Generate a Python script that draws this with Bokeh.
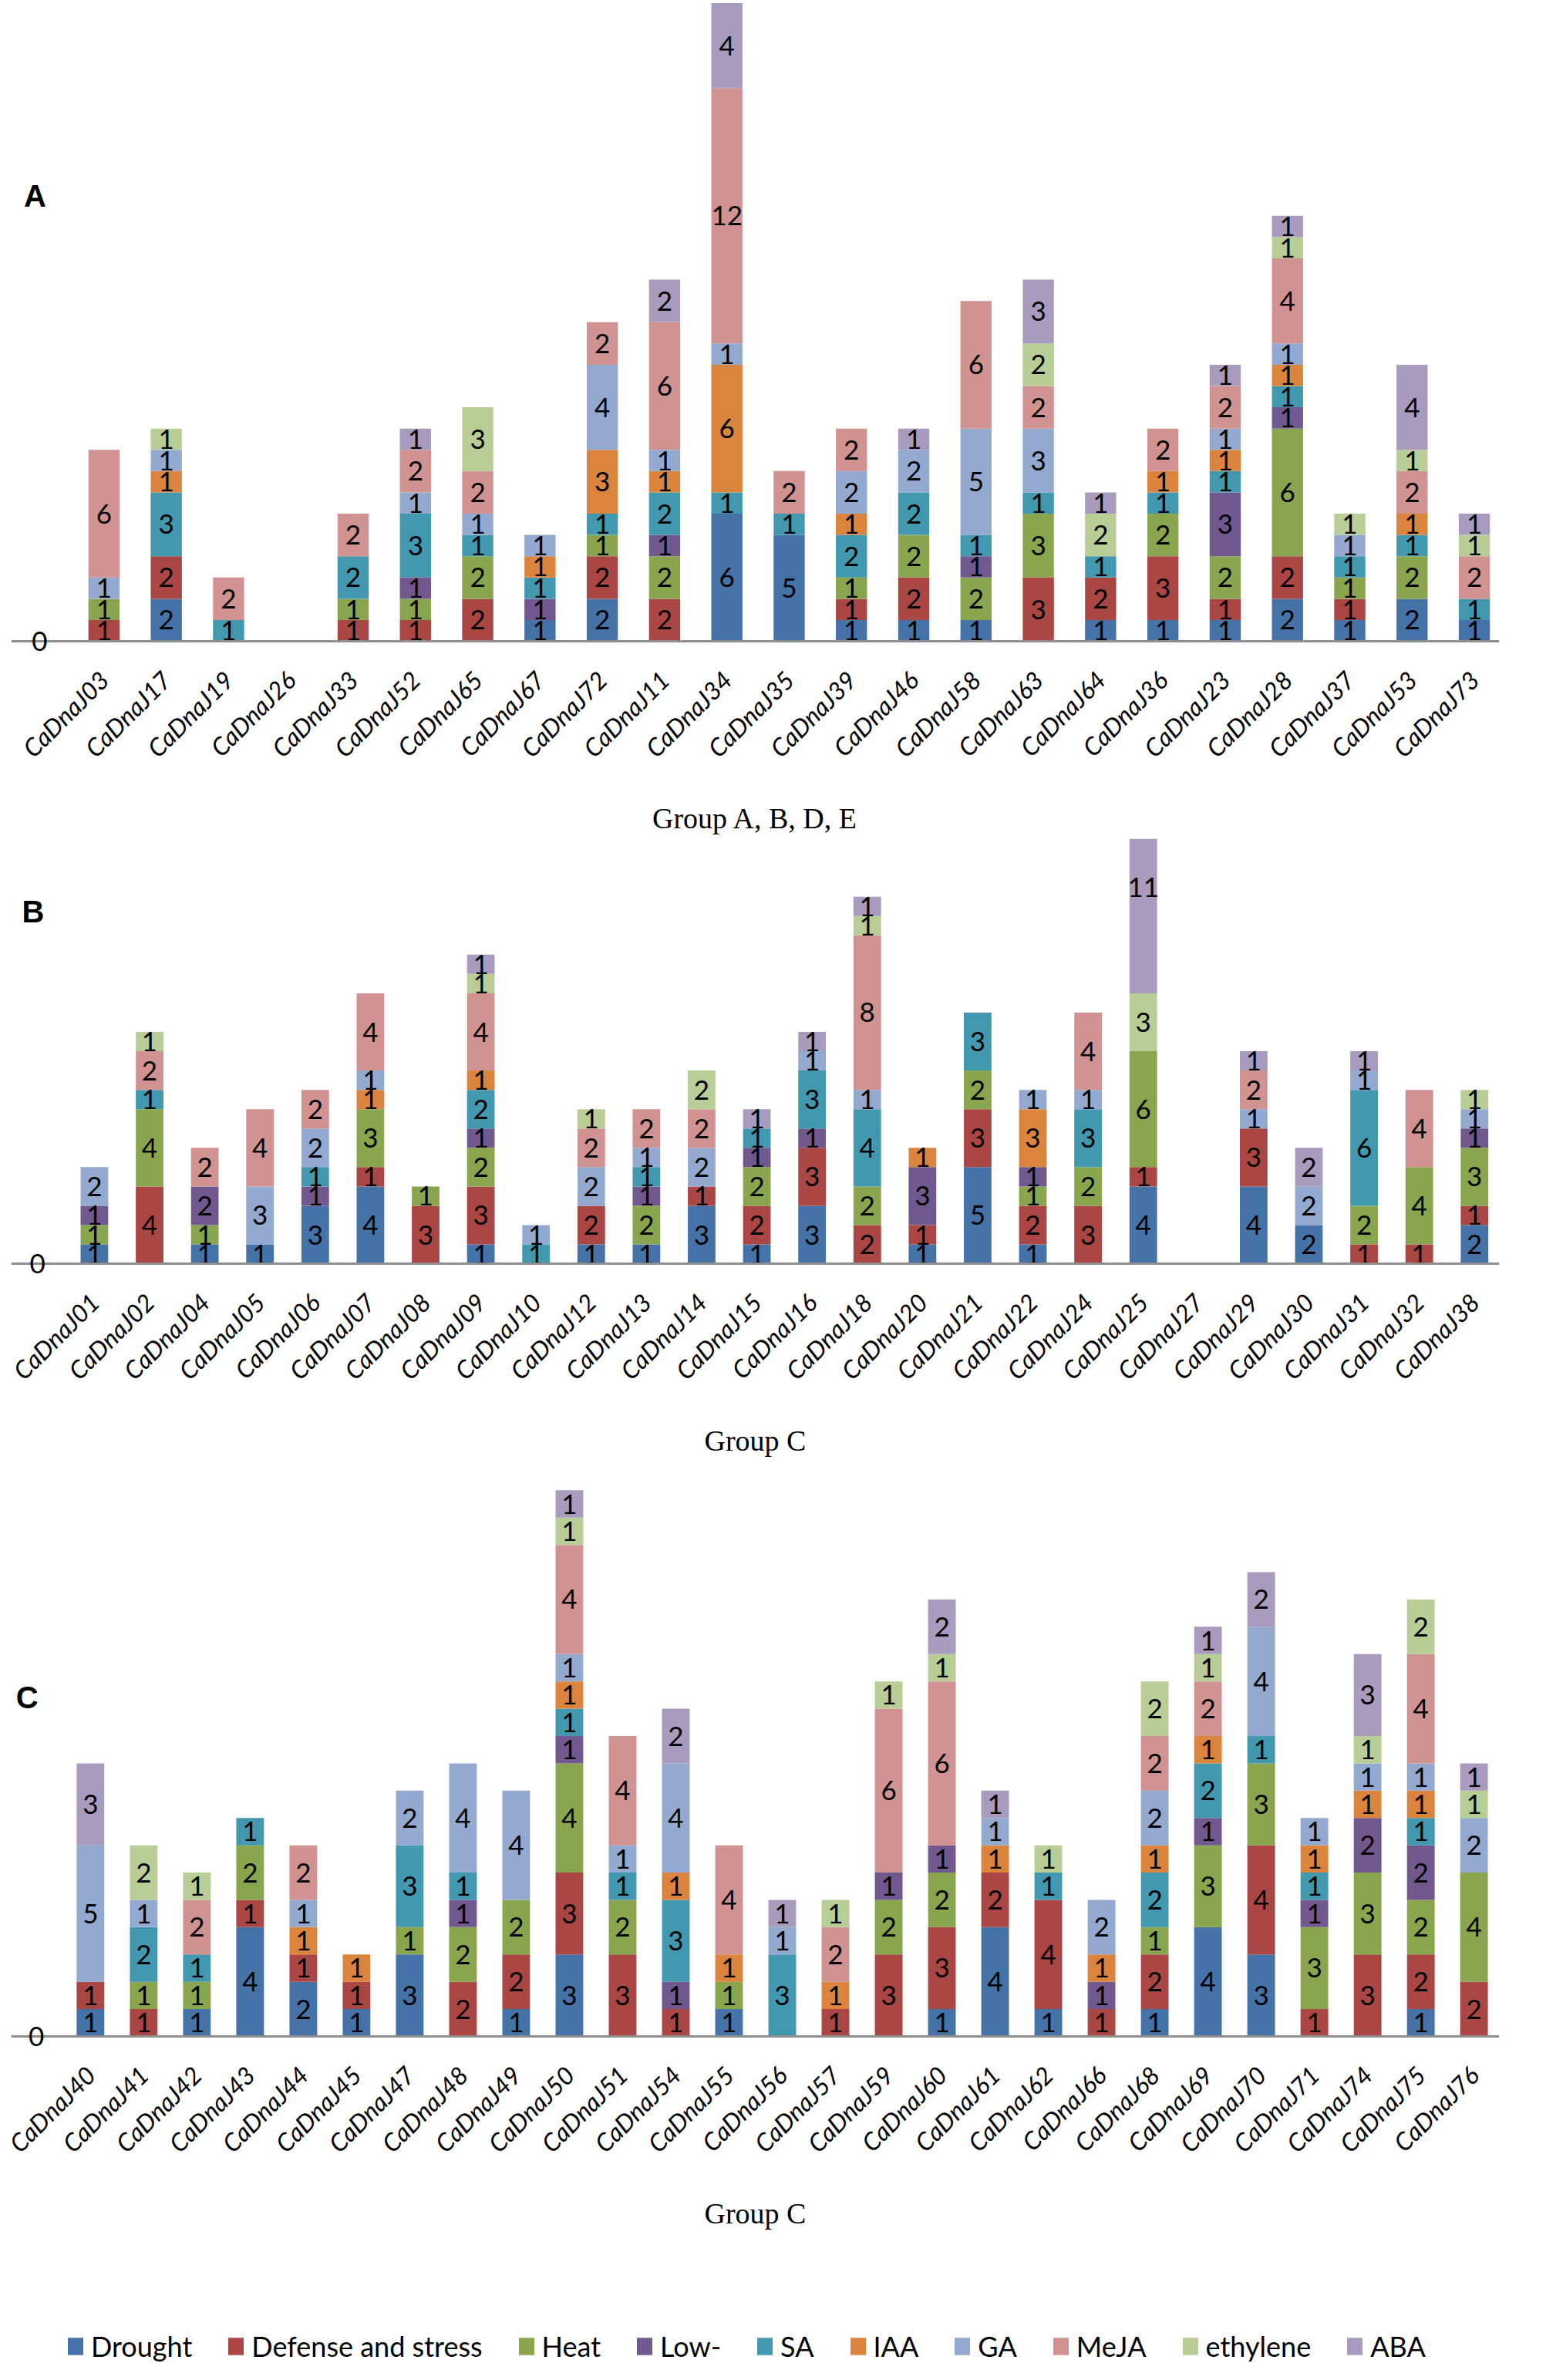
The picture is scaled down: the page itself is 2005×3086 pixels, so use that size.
import math
from bokeh.plotting import figure
from bokeh.models import ColumnDataSource, Range1d, FixedTicker, Label, Legend, LegendItem, Span
from bokeh.layouts import column
from bokeh.embed import file_html
from bokeh.resources import INLINE
from bokeh.core.properties import value

# ---------------- data ----------------
series = ["Drought", "Defense and stress", "Heat", "Low-", "SA", "IAA", "GA", "MeJA", "ethylene", "ABA"]
colors = ["#4572A7", "#AA4643", "#89A54E", "#71588F", "#4198AF", "#DB843D", "#93A9CF", "#D19392", "#B9CD96", "#A99BBD"]

# Panel A: Group A, B, D, E
a_genes = ["CaDnaJ03", "CaDnaJ17", "CaDnaJ19", "CaDnaJ26", "CaDnaJ33", "CaDnaJ52", "CaDnaJ65", "CaDnaJ67",
           "CaDnaJ72", "CaDnaJ11", "CaDnaJ34", "CaDnaJ35", "CaDnaJ39", "CaDnaJ46", "CaDnaJ58", "CaDnaJ63",
           "CaDnaJ64", "CaDnaJ36", "CaDnaJ23", "CaDnaJ28", "CaDnaJ37", "CaDnaJ53", "CaDnaJ73"]
a_drought  = [0, 2, 0, 0, 0, 0, 0, 1, 2, 0, 6, 5, 1, 1, 1, 0, 1, 1, 1, 2, 1, 2, 1]
a_defense  = [1, 2, 0, 0, 1, 1, 2, 0, 2, 2, 0, 0, 1, 2, 0, 3, 2, 3, 1, 2, 1, 0, 0]
a_heat     = [1, 0, 0, 0, 1, 1, 2, 0, 1, 2, 0, 0, 1, 2, 2, 3, 0, 2, 2, 6, 1, 2, 0]
a_low      = [0, 0, 0, 0, 0, 1, 0, 1, 0, 1, 0, 0, 0, 0, 1, 0, 0, 0, 3, 1, 0, 0, 0]
a_sa       = [0, 3, 1, 0, 2, 3, 1, 1, 1, 2, 1, 1, 2, 2, 1, 1, 1, 1, 1, 1, 1, 1, 1]
a_iaa      = [0, 1, 0, 0, 0, 0, 0, 1, 3, 1, 6, 0, 1, 0, 0, 0, 0, 1, 1, 1, 0, 1, 0]
a_ga       = [1, 1, 0, 0, 0, 1, 1, 1, 4, 1, 1, 0, 2, 2, 5, 3, 0, 0, 1, 1, 1, 0, 0]
a_meja     = [6, 0, 2, 0, 2, 2, 2, 0, 2, 6, 12, 2, 2, 0, 6, 2, 0, 2, 2, 4, 0, 2, 2]
a_ethylene = [0, 1, 0, 0, 0, 0, 3, 0, 0, 0, 0, 0, 0, 0, 0, 2, 2, 0, 0, 1, 1, 1, 1]
a_aba      = [0, 0, 0, 0, 0, 1, 0, 0, 0, 2, 4, 0, 0, 1, 0, 3, 1, 0, 1, 1, 0, 4, 1]

# Panel B: Group C (part 1)
b_genes = ["CaDnaJ01", "CaDnaJ02", "CaDnaJ04", "CaDnaJ05", "CaDnaJ06", "CaDnaJ07", "CaDnaJ08", "CaDnaJ09",
           "CaDnaJ10", "CaDnaJ12", "CaDnaJ13", "CaDnaJ14", "CaDnaJ15", "CaDnaJ16", "CaDnaJ18", "CaDnaJ20",
           "CaDnaJ21", "CaDnaJ22", "CaDnaJ24", "CaDnaJ25", "CaDnaJ27", "CaDnaJ29", "CaDnaJ30", "CaDnaJ31",
           "CaDnaJ32", "CaDnaJ38"]
b_drought  = [1, 0, 1, 1, 3, 4, 0, 1, 0, 1, 1, 3, 1, 3, 0, 1, 5, 1, 0, 4, 0, 4, 2, 0, 0, 2]
b_defense  = [0, 4, 0, 0, 0, 1, 3, 3, 0, 2, 0, 1, 2, 3, 2, 1, 3, 2, 3, 1, 0, 3, 0, 1, 1, 1]
b_heat     = [1, 4, 1, 0, 0, 3, 1, 2, 0, 0, 2, 0, 2, 0, 2, 0, 2, 1, 2, 6, 0, 0, 0, 2, 4, 3]
b_low      = [1, 0, 2, 0, 1, 0, 0, 1, 0, 0, 1, 0, 1, 1, 0, 3, 0, 1, 0, 0, 0, 0, 0, 0, 0, 1]
b_sa       = [0, 1, 0, 0, 1, 0, 0, 2, 1, 0, 1, 0, 1, 3, 4, 0, 3, 0, 3, 0, 0, 0, 0, 6, 0, 0]
b_iaa      = [0, 0, 0, 0, 0, 1, 0, 1, 0, 0, 0, 0, 0, 0, 0, 1, 0, 3, 0, 0, 0, 0, 0, 0, 0, 0]
b_ga       = [2, 0, 0, 3, 2, 1, 0, 0, 1, 2, 1, 2, 0, 1, 1, 0, 0, 1, 1, 0, 0, 1, 2, 1, 0, 1]
b_meja     = [0, 2, 2, 4, 2, 4, 0, 4, 0, 2, 2, 2, 0, 0, 8, 0, 0, 0, 4, 0, 0, 2, 0, 0, 4, 0]
b_ethylene = [0, 1, 0, 0, 0, 0, 0, 1, 0, 1, 0, 2, 0, 0, 1, 0, 0, 0, 0, 3, 0, 0, 0, 0, 0, 1]
b_aba      = [0, 0, 0, 0, 0, 0, 0, 1, 0, 0, 0, 0, 1, 1, 1, 0, 0, 0, 0, 11, 0, 1, 2, 1, 0, 0]

# Panel C: Group C (part 2)
c_genes = ["CaDnaJ40", "CaDnaJ41", "CaDnaJ42", "CaDnaJ43", "CaDnaJ44", "CaDnaJ45", "CaDnaJ47", "CaDnaJ48",
           "CaDnaJ49", "CaDnaJ50", "CaDnaJ51", "CaDnaJ54", "CaDnaJ55", "CaDnaJ56", "CaDnaJ57", "CaDnaJ59",
           "CaDnaJ60", "CaDnaJ61", "CaDnaJ62", "CaDnaJ66", "CaDnaJ68", "CaDnaJ69", "CaDnaJ70", "CaDnaJ71",
           "CaDnaJ74", "CaDnaJ75", "CaDnaJ76"]
c_drought  = [1, 0, 1, 4, 2, 1, 3, 0, 1, 3, 0, 0, 1, 0, 0, 0, 1, 4, 1, 0, 1, 4, 3, 0, 0, 1, 0]
c_defense  = [1, 1, 0, 1, 1, 1, 0, 2, 2, 3, 3, 1, 0, 0, 1, 3, 3, 2, 4, 1, 2, 0, 4, 1, 3, 2, 2]
c_heat     = [0, 1, 1, 2, 0, 0, 1, 2, 2, 4, 2, 0, 1, 0, 0, 2, 2, 0, 0, 0, 1, 3, 3, 3, 3, 2, 4]
c_low      = [0, 0, 0, 0, 0, 0, 0, 1, 0, 1, 0, 1, 0, 0, 0, 1, 1, 0, 0, 1, 0, 1, 0, 1, 2, 2, 0]
c_sa       = [0, 2, 1, 1, 0, 0, 3, 1, 0, 1, 1, 3, 0, 3, 0, 0, 0, 0, 1, 0, 2, 2, 1, 1, 0, 1, 0]
c_iaa      = [0, 0, 0, 0, 1, 1, 0, 0, 0, 1, 0, 1, 1, 0, 1, 0, 0, 1, 0, 1, 1, 1, 0, 1, 1, 1, 0]
c_ga       = [5, 1, 0, 0, 1, 0, 2, 4, 4, 1, 1, 4, 0, 1, 0, 0, 0, 1, 0, 2, 2, 0, 4, 1, 1, 1, 2]
c_meja     = [0, 0, 2, 0, 2, 0, 0, 0, 0, 4, 4, 0, 4, 0, 2, 6, 6, 0, 0, 0, 2, 2, 0, 0, 0, 4, 0]
c_ethylene = [0, 2, 1, 0, 0, 0, 0, 0, 0, 1, 0, 0, 0, 0, 1, 1, 1, 0, 1, 0, 2, 1, 0, 0, 1, 2, 1]
c_aba      = [3, 0, 0, 0, 0, 0, 0, 0, 0, 1, 0, 2, 0, 1, 0, 0, 2, 1, 0, 0, 0, 1, 2, 0, 3, 0, 1]

a_values = [a_drought, a_defense, a_heat, a_low, a_sa, a_iaa, a_ga, a_meja, a_ethylene, a_aba]
b_values = [b_drought, b_defense, b_heat, b_low, b_sa, b_iaa, b_ga, b_meja, b_ethylene, b_aba]
c_values = [c_drought, c_defense, c_heat, c_low, c_sa, c_iaa, c_ga, c_meja, c_ethylene, c_aba]

# ---------------- layout constants ----------------
PAGE = 8          # page margin
FIG_W = 1989
PAD = 24          # frame space kept below the zero line (px)
LABEL_FONT = "Lato"
TITLE_FONT = "Liberation Serif"
AXIS_GREY = "#8E8E8E"


def make_panel(genes, values, letter, xlabel, ymax, page_top, height, top_border, frame_h,
               left_px, right_px, first_px, step_px, bar_w, zero_px, letter_xy):
    n = len(genes)
    unit = frame_h / ymax
    x0 = -(first_px - left_px) / step_px
    x1 = x0 + (right_px - left_px) / step_px
    p = figure(width=FIG_W, height=height, output_backend="svg", toolbar_location=None,
               y_axis_location=None, x_range=Range1d(x0, x1), y_range=Range1d(-PAD / unit, ymax),
               min_border_left=left_px - PAGE, min_border_right=PAGE + FIG_W - right_px,
               min_border_top=top_border, min_border_bottom=height - top_border - frame_h - PAD)
    p.outline_line_color = None
    p.xgrid.visible = False
    p.ygrid.visible = False
    p.background_fill_color = "white"
    p.border_fill_color = "white"

    keys = ["s%d" % i for i in range(len(series))]
    data = {"x": list(range(n))}
    for k, vals in zip(keys, values):
        data[k] = vals
    src = ColumnDataSource(data)
    p.vbar_stack(keys, x="x", width=bar_w, fill_color=colors, line_color=None, source=src)

    # zero line (category axis line)
    p.add_layout(Span(location=0, dimension="width", line_color=AXIS_GREY, line_width=3))

    # segment value labels
    lx, ly, lt = [], [], []
    for i in range(n):
        base = 0
        for vals in values:
            v = vals[i]
            if v > 0:
                lx.append(i)
                ly.append(base + v / 2.0)
                lt.append(str(v))
            base += v
    p.text(x="x", y="y", text="t", source=ColumnDataSource(dict(x=lx, y=ly, t=lt)),
           text_font=value(LABEL_FONT), text_font_size=value("35px"), text_color="black",
           text_align="center", text_baseline="middle")

    ax = p.xaxis[0]
    ax.ticker = FixedTicker(ticks=list(range(n)))
    ax.major_label_overrides = {i: g for i, g in enumerate(genes)}
    ax.axis_line_color = None
    ax.major_tick_line_color = None
    ax.minor_tick_line_color = None
    ax.major_label_orientation = math.pi / 4
    ax.major_label_text_font = LABEL_FONT
    ax.major_label_text_font_style = "italic"
    ax.major_label_text_font_size = "32px"
    ax.major_label_text_color = "black"
    ax.major_label_standoff = 14
    ax.axis_label = xlabel
    ax.axis_label_text_font = TITLE_FONT
    ax.axis_label_text_font_style = "normal"
    ax.axis_label_text_font_size = "38px"
    ax.axis_label_text_color = "black"
    ax.axis_label_standoff = 34

    baseline = page_top + top_border + frame_h
    # "0" value-axis label
    p.add_layout(Label(x=x0 + (zero_px - left_px) / step_px, y=0, text="0",
                       text_font=LABEL_FONT, text_font_size="35px", text_color="black",
                       text_align="center", text_baseline="middle"))
    # panel letter
    lxp, lyp = letter_xy
    p.add_layout(Label(x=x0 + (lxp - left_px) / step_px, y=(baseline - lyp) / unit, text=letter,
                       text_font="Liberation Sans", text_font_style="bold", text_font_size="40px",
                       text_color="black", text_align="center", text_baseline="middle"))
    return p


pA = make_panel(a_genes, a_values, "A", "Group A, B, D, E", 30.05, page_top=8, height=1085,
                top_border=2, frame_h=831, left_px=12, right_px=1952, first_px=133, step_px=81.2,
                bar_w=0.5, zero_px=49, letter_xy=(43, 262))
pB = make_panel(b_genes, b_values, "B", "Group C", 22.0, page_top=1093, height=807,
                top_border=2, frame_h=554, left_px=14, right_px=1990, first_px=124.5, step_px=73.3,
                bar_w=0.5, zero_px=49, letter_xy=(43, 1190))
pC = make_panel(c_genes, c_values, "C", "Group C", 20.56, page_top=1900, height=1010,
                top_border=20, frame_h=728, left_px=22, right_px=1974, first_px=126, step_px=69.8,
                bar_w=0.52, zero_px=55, letter_xy=(43, 2208))

# ---------------- legend ----------------
lg = figure(width=FIG_W, height=168, output_backend="svg", toolbar_location=None,
            x_range=Range1d(0, 1), y_range=Range1d(0, 1), x_axis_location=None, y_axis_location=None,
            min_border=0)
lg.outline_line_color = None
lg.grid.visible = False
items = []
for s, c in zip(series, colors):
    # zero-height swatch renderer: nothing is drawn in the plot, only its legend entry
    r = lg.vbar(x=[0.5], top=[0], width=0.1, fill_color=c, line_color=None)
    items.append(LegendItem(label=s, renderers=[r]))
leg = Legend(items=items, orientation="horizontal", location=(71, 6), glyph_width=25, glyph_height=28,
             label_standoff=8, spacing=44, label_text_font=LABEL_FONT, label_text_font_size="36px",
             label_text_color="black", padding=0, margin=0, border_line_color=None,
             background_fill_alpha=0)
lg.add_layout(leg, "center")

layout = column(pA, pB, pC, lg)
open("out.html", "w").write(file_html(layout, INLINE))
